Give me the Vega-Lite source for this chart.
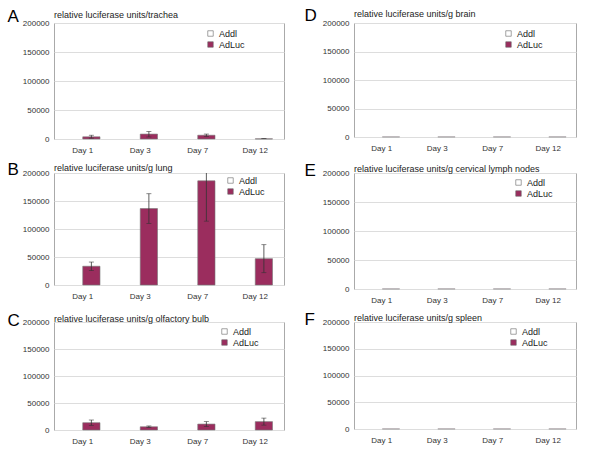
{
  "$schema": "https://vega.github.io/schema/vega-lite/v6.json",
  "padding": {"left": 6, "top": 5, "right": 4, "bottom": 4},
  "background": "white",
  "datasets": {
    "d": [
      {"organ": "trachea", "day": "Day 1", "series": "Addl", "value": 0, "lo": null, "hi": null},
      {"organ": "trachea", "day": "Day 3", "series": "Addl", "value": 0, "lo": null, "hi": null},
      {"organ": "trachea", "day": "Day 7", "series": "Addl", "value": 0, "lo": null, "hi": null},
      {"organ": "trachea", "day": "Day 12", "series": "Addl", "value": 0, "lo": null, "hi": null},
      {"organ": "trachea", "day": "Day 1", "series": "AdLuc", "value": 3800, "lo": 1500, "hi": 6500},
      {"organ": "trachea", "day": "Day 3", "series": "AdLuc", "value": 8500, "lo": 3500, "hi": 13000},
      {"organ": "trachea", "day": "Day 7", "series": "AdLuc", "value": 6500, "lo": 4500, "hi": 8500},
      {"organ": "trachea", "day": "Day 12", "series": "AdLuc", "value": 300, "lo": 0, "hi": 600},
      {"organ": "lung", "day": "Day 1", "series": "Addl", "value": 0, "lo": null, "hi": null},
      {"organ": "lung", "day": "Day 3", "series": "Addl", "value": 0, "lo": null, "hi": null},
      {"organ": "lung", "day": "Day 7", "series": "Addl", "value": 0, "lo": null, "hi": null},
      {"organ": "lung", "day": "Day 12", "series": "Addl", "value": 0, "lo": null, "hi": null},
      {"organ": "lung", "day": "Day 1", "series": "AdLuc", "value": 33500, "lo": 26000, "hi": 41000},
      {"organ": "lung", "day": "Day 3", "series": "AdLuc", "value": 136500, "lo": 110000, "hi": 163000},
      {"organ": "lung", "day": "Day 7", "series": "AdLuc", "value": 186000, "lo": 114000, "hi": 258000},
      {"organ": "lung", "day": "Day 12", "series": "AdLuc", "value": 47000, "lo": 22000, "hi": 72000},
      {"organ": "olfactory bulb", "day": "Day 1", "series": "Addl", "value": 0, "lo": null, "hi": null},
      {"organ": "olfactory bulb", "day": "Day 3", "series": "Addl", "value": 0, "lo": null, "hi": null},
      {"organ": "olfactory bulb", "day": "Day 7", "series": "Addl", "value": 0, "lo": null, "hi": null},
      {"organ": "olfactory bulb", "day": "Day 12", "series": "Addl", "value": 0, "lo": null, "hi": null},
      {"organ": "olfactory bulb", "day": "Day 1", "series": "AdLuc", "value": 13500, "lo": 8500, "hi": 18500},
      {"organ": "olfactory bulb", "day": "Day 3", "series": "AdLuc", "value": 6000, "lo": 4500, "hi": 7500},
      {"organ": "olfactory bulb", "day": "Day 7", "series": "AdLuc", "value": 11000, "lo": 6500, "hi": 15500},
      {"organ": "olfactory bulb", "day": "Day 12", "series": "AdLuc", "value": 15500, "lo": 9000, "hi": 22000},
      {"organ": "brain", "day": "Day 1", "series": "Addl", "value": 0, "lo": null, "hi": null},
      {"organ": "brain", "day": "Day 3", "series": "Addl", "value": 0, "lo": null, "hi": null},
      {"organ": "brain", "day": "Day 7", "series": "Addl", "value": 0, "lo": null, "hi": null},
      {"organ": "brain", "day": "Day 12", "series": "Addl", "value": 0, "lo": null, "hi": null},
      {"organ": "brain", "day": "Day 1", "series": "AdLuc", "value": 200, "lo": 0, "hi": 500},
      {"organ": "brain", "day": "Day 3", "series": "AdLuc", "value": 200, "lo": 0, "hi": 500},
      {"organ": "brain", "day": "Day 7", "series": "AdLuc", "value": 200, "lo": 0, "hi": 500},
      {"organ": "brain", "day": "Day 12", "series": "AdLuc", "value": 200, "lo": 0, "hi": 500},
      {"organ": "cervical lymph nodes", "day": "Day 1", "series": "Addl", "value": 0, "lo": null, "hi": null},
      {"organ": "cervical lymph nodes", "day": "Day 3", "series": "Addl", "value": 0, "lo": null, "hi": null},
      {"organ": "cervical lymph nodes", "day": "Day 7", "series": "Addl", "value": 0, "lo": null, "hi": null},
      {"organ": "cervical lymph nodes", "day": "Day 12", "series": "Addl", "value": 0, "lo": null, "hi": null},
      {"organ": "cervical lymph nodes", "day": "Day 1", "series": "AdLuc", "value": 200, "lo": 0, "hi": 500},
      {"organ": "cervical lymph nodes", "day": "Day 3", "series": "AdLuc", "value": 200, "lo": 0, "hi": 500},
      {"organ": "cervical lymph nodes", "day": "Day 7", "series": "AdLuc", "value": 200, "lo": 0, "hi": 500},
      {"organ": "cervical lymph nodes", "day": "Day 12", "series": "AdLuc", "value": 200, "lo": 0, "hi": 500},
      {"organ": "spleen", "day": "Day 1", "series": "Addl", "value": 0, "lo": null, "hi": null},
      {"organ": "spleen", "day": "Day 3", "series": "Addl", "value": 0, "lo": null, "hi": null},
      {"organ": "spleen", "day": "Day 7", "series": "Addl", "value": 0, "lo": null, "hi": null},
      {"organ": "spleen", "day": "Day 12", "series": "Addl", "value": 0, "lo": null, "hi": null},
      {"organ": "spleen", "day": "Day 1", "series": "AdLuc", "value": 200, "lo": 0, "hi": 500},
      {"organ": "spleen", "day": "Day 3", "series": "AdLuc", "value": 200, "lo": 0, "hi": 500},
      {"organ": "spleen", "day": "Day 7", "series": "AdLuc", "value": 200, "lo": 0, "hi": 500},
      {"organ": "spleen", "day": "Day 12", "series": "AdLuc", "value": 200, "lo": 0, "hi": 500}
    ]
  },
  "data": {"name": "d"},
  "columns": 2,
  "spacing": {"row": 4, "column": 18},
  "concat": [
    {
      "width": 230, "height": 116,
      "title": {"text": "relative luciferase units/trachea"},
      "transform": [{"filter": "datum.organ === 'trachea'"}],
      "encoding": {
        "x": {"field": "day", "type": "nominal", "sort": ["Day 1", "Day 3", "Day 7", "Day 12"], "scale": {"paddingInner": 0.4, "paddingOuter": 0.2}, "axis": {"title": null}},
        "xOffset": {"field": "series", "type": "nominal", "scale": {"domain": ["Addl", "AdLuc"]}}
      },
      "layer": [
        {"mark": {"type": "bar", "strokeWidth": 0.6},
         "encoding": {
           "y": {"field": "value", "type": "quantitative", "scale": {"domain": [0, 200000]}, "axis": {"title": "A", "titleY": -2}},
           "fill": {"field": "series", "type": "nominal", "scale": {"domain": ["Addl", "AdLuc"], "range": ["white", "#9B2D5E"]}, "legend": {"legendX": 152, "legendY": 6}},
           "stroke": {"condition": {"test": "datum.value > 0", "value": "#777"}, "value": null}
         }},
        {"transform": [{"filter": "datum.series === 'AdLuc'"}], "mark": {"type": "rule", "clip": true, "color": "#333", "strokeWidth": 0.8},
         "encoding": {"y": {"field": "lo", "type": "quantitative"}, "y2": {"field": "hi"}}},
        {"transform": [{"filter": "datum.series === 'AdLuc'"}], "mark": {"type": "tick", "clip": true, "color": "#333", "size": 5, "thickness": 0.8, "orient": "horizontal"},
         "encoding": {"y": {"field": "hi", "type": "quantitative"}}},
        {"transform": [{"filter": "datum.series === 'AdLuc'"}], "mark": {"type": "tick", "clip": true, "color": "#333", "size": 5, "thickness": 0.8, "orient": "horizontal"},
         "encoding": {"y": {"field": "lo", "type": "quantitative"}}}
      ]
    },
    {
      "width": 222, "height": 114,
      "title": {"text": "relative luciferase units/g brain"},
      "transform": [{"filter": "datum.organ === 'brain'"}],
      "encoding": {
        "x": {"field": "day", "type": "nominal", "sort": ["Day 1", "Day 3", "Day 7", "Day 12"], "scale": {"paddingInner": 0.4, "paddingOuter": 0.2}, "axis": {"title": null}},
        "xOffset": {"field": "series", "type": "nominal", "scale": {"domain": ["Addl", "AdLuc"]}}
      },
      "layer": [
        {"mark": {"type": "bar", "strokeWidth": 0.6},
         "encoding": {
           "y": {"field": "value", "type": "quantitative", "scale": {"domain": [0, 200000]}, "axis": {"title": "D", "titleY": -3, "titleX": -50}},
           "fill": {"field": "series", "type": "nominal", "scale": {"domain": ["Addl", "AdLuc"], "range": ["white", "#9B2D5E"]}, "legend": {"legendX": 150, "legendY": 6}},
           "stroke": {"condition": {"test": "datum.value > 0", "value": "#999"}, "value": null}
         }}
      ]
    },
    {
      "width": 230, "height": 112,
      "title": {"text": "relative luciferase units/g lung"},
      "transform": [{"filter": "datum.organ === 'lung'"}],
      "encoding": {
        "x": {"field": "day", "type": "nominal", "sort": ["Day 1", "Day 3", "Day 7", "Day 12"], "scale": {"paddingInner": 0.4, "paddingOuter": 0.2}, "axis": {"title": null}},
        "xOffset": {"field": "series", "type": "nominal", "scale": {"domain": ["Addl", "AdLuc"]}}
      },
      "layer": [
        {"mark": {"type": "bar", "strokeWidth": 0.6},
         "encoding": {
           "y": {"field": "value", "type": "quantitative", "scale": {"domain": [0, 200000]}, "axis": {"title": "B", "titleY": 1}},
           "fill": {"field": "series", "type": "nominal", "scale": {"domain": ["Addl", "AdLuc"], "range": ["white", "#9B2D5E"]}, "legend": {"legendX": 172, "legendY": 3}},
           "stroke": {"condition": {"test": "datum.value > 0", "value": "#777"}, "value": null}
         }},
        {"transform": [{"filter": "datum.series === 'AdLuc'"}], "mark": {"type": "rule", "clip": true, "color": "#333", "strokeWidth": 0.8},
         "encoding": {"y": {"field": "lo", "type": "quantitative"}, "y2": {"field": "hi"}}},
        {"transform": [{"filter": "datum.series === 'AdLuc'"}], "mark": {"type": "tick", "clip": true, "color": "#333", "size": 5, "thickness": 0.8, "orient": "horizontal"},
         "encoding": {"y": {"field": "hi", "type": "quantitative"}}},
        {"transform": [{"filter": "datum.series === 'AdLuc'"}], "mark": {"type": "tick", "clip": true, "color": "#333", "size": 5, "thickness": 0.8, "orient": "horizontal"},
         "encoding": {"y": {"field": "lo", "type": "quantitative"}}}
      ]
    },
    {
      "width": 222, "height": 116,
      "title": {"text": "relative luciferase units/g cervical lymph nodes"},
      "transform": [{"filter": "datum.organ === 'cervical lymph nodes'"}],
      "encoding": {
        "x": {"field": "day", "type": "nominal", "sort": ["Day 1", "Day 3", "Day 7", "Day 12"], "scale": {"paddingInner": 0.4, "paddingOuter": 0.2}, "axis": {"title": null}},
        "xOffset": {"field": "series", "type": "nominal", "scale": {"domain": ["Addl", "AdLuc"]}}
      },
      "layer": [
        {"mark": {"type": "bar", "strokeWidth": 0.6},
         "encoding": {
           "y": {"field": "value", "type": "quantitative", "scale": {"domain": [0, 200000]}, "axis": {"title": "E", "titleY": 2, "titleX": -50}},
           "fill": {"field": "series", "type": "nominal", "scale": {"domain": ["Addl", "AdLuc"], "range": ["white", "#9B2D5E"]}, "legend": {"legendX": 160, "legendY": 5}},
           "stroke": {"condition": {"test": "datum.value > 0", "value": "#999"}, "value": null}
         }}
      ]
    },
    {
      "width": 230, "height": 108,
      "title": {"text": "relative luciferase units/g olfactory bulb"},
      "transform": [{"filter": "datum.organ === 'olfactory bulb'"}],
      "encoding": {
        "x": {"field": "day", "type": "nominal", "sort": ["Day 1", "Day 3", "Day 7", "Day 12"], "scale": {"paddingInner": 0.4, "paddingOuter": 0.2}, "axis": {"title": null}},
        "xOffset": {"field": "series", "type": "nominal", "scale": {"domain": ["Addl", "AdLuc"]}}
      },
      "layer": [
        {"mark": {"type": "bar", "strokeWidth": 0.6},
         "encoding": {
           "y": {"field": "value", "type": "quantitative", "scale": {"domain": [0, 200000]}, "axis": {"title": "C", "titleY": 3}},
           "fill": {"field": "series", "type": "nominal", "scale": {"domain": ["Addl", "AdLuc"], "range": ["white", "#9B2D5E"]}, "legend": {"legendX": 166, "legendY": 5}},
           "stroke": {"condition": {"test": "datum.value > 0", "value": "#777"}, "value": null}
         }},
        {"transform": [{"filter": "datum.series === 'AdLuc'"}], "mark": {"type": "rule", "clip": true, "color": "#333", "strokeWidth": 0.8},
         "encoding": {"y": {"field": "lo", "type": "quantitative"}, "y2": {"field": "hi"}}},
        {"transform": [{"filter": "datum.series === 'AdLuc'"}], "mark": {"type": "tick", "clip": true, "color": "#333", "size": 5, "thickness": 0.8, "orient": "horizontal"},
         "encoding": {"y": {"field": "hi", "type": "quantitative"}}},
        {"transform": [{"filter": "datum.series === 'AdLuc'"}], "mark": {"type": "tick", "clip": true, "color": "#333", "size": 5, "thickness": 0.8, "orient": "horizontal"},
         "encoding": {"y": {"field": "lo", "type": "quantitative"}}}
      ]
    },
    {
      "width": 222, "height": 107,
      "title": {"text": "relative luciferase units/g spleen"},
      "transform": [{"filter": "datum.organ === 'spleen'"}],
      "encoding": {
        "x": {"field": "day", "type": "nominal", "sort": ["Day 1", "Day 3", "Day 7", "Day 12"], "scale": {"paddingInner": 0.4, "paddingOuter": 0.2}, "axis": {"title": null}},
        "xOffset": {"field": "series", "type": "nominal", "scale": {"domain": ["Addl", "AdLuc"]}}
      },
      "layer": [
        {"mark": {"type": "bar", "strokeWidth": 0.6},
         "encoding": {
           "y": {"field": "value", "type": "quantitative", "scale": {"domain": [0, 200000]}, "axis": {"title": "F", "titleY": 2, "titleX": -50}},
           "fill": {"field": "series", "type": "nominal", "scale": {"domain": ["Addl", "AdLuc"], "range": ["white", "#9B2D5E"]}, "legend": {"legendX": 155, "legendY": 5}},
           "stroke": {"condition": {"test": "datum.value > 0", "value": "#999"}, "value": null}
         }}
      ]
    }
  ],
  "resolve": {"scale": {"fill": "independent"}, "legend": {"fill": "independent"}},
  "config": {
    "font": "Liberation Sans",
    "view": {"stroke": "#aaaaaa", "strokeWidth": 1},
    "title": {"anchor": "start", "frame": "group", "fontSize": 9, "fontWeight": "normal", "color": "#222", "offset": -13},
    "axisY": {"values": [0, 50000, 100000, 150000, 200000], "format": "d", "labelFontSize": 8, "labelColor": "#333", "gridColor": "#dddddd", "domain": false, "ticks": false, "labelPadding": 5,
              "titleAngle": 0, "titleX": -47, "titleAlign": "left", "titleBaseline": "alphabetic", "titleFontSize": 17, "titleFontWeight": "normal", "titleColor": "black"},
    "axisX": {"labelAngle": 0, "ticks": false, "domain": false, "labelPadding": 7, "labelFontSize": 8, "labelColor": "#333"},
    "legend": {"orient": "none", "title": null, "symbolType": "square", "symbolSize": 30, "symbolStrokeColor": "#666", "symbolStrokeWidth": 0.6, "labelFontSize": 9, "labelColor": "#222", "rowPadding": 1, "labelOffset": 4}
  }
}
